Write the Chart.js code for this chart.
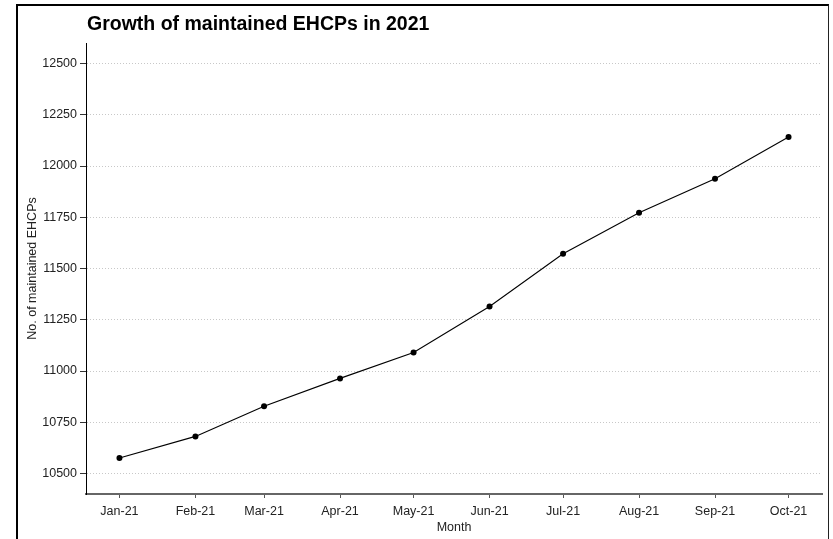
<!DOCTYPE html>
<html>
<head>
<meta charset="utf-8">
<script src="https://cdn.jsdelivr.net/npm/chart.js@4/dist/chart.umd.min.js"></script>
<style>
    html, body { margin: 0; padding: 0; background: #fff; }
    #wrap { position: relative; width: 833px; height: 539px; overflow: hidden; }
    #frame {
        position: absolute; left: 16px; top: 4px; width: 810px; height: 600px;
        border-left: 2px solid #000; border-top: 2px solid #000; border-right: 1px solid #222;
        pointer-events: none;
    }
    canvas { position: absolute; left: 0; top: 0; }
</style>
</head>
<body>
<div id="wrap">
    <div id="frame"></div>
    <canvas id="ehcpChart" width="833" height="539"></canvas>
</div>
<script>
// month labels and the date each point sits on
const monthLabels = ['Jan-21', 'Feb-21', 'Mar-21', 'Apr-21', 'May-21', 'Jun-21', 'Jul-21', 'Aug-21', 'Sep-21', 'Oct-21'];
const monthDates = ['2021-01-01', '2021-02-01', '2021-03-01', '2021-04-01', '2021-05-01',
                    '2021-06-01', '2021-07-01', '2021-08-01', '2021-09-01', '2021-10-01'];
// number of maintained EHCPs
const ehcpCounts = [10576, 10681, 10828, 10964, 11090, 11315, 11572, 11772, 11938, 12141];
const yTicks = [10500, 10750, 11000, 11250, 11500, 11750, 12000, 12250, 12500];

// days since 1 Jan, so months are spaced like a real date axis
const dayMs = 24 * 60 * 60 * 1000;
const dayOffsets = monthDates.map(d => Math.round((Date.parse(d) - Date.parse(monthDates[0])) / dayMs));
const xSpan = dayOffsets[dayOffsets.length - 1] - dayOffsets[0];
const xPad = xSpan * 0.05; // ggplot style 5% expansion

const points = dayOffsets.map((x, i) => ({ x: x, y: ehcpCounts[i] }));

const titlePlugin = {
    id: 'leftTitle',
    afterDraw(chart) {
        const ctx = chart.ctx;
        ctx.save();
        ctx.font = 'bold 19.5px "Liberation Sans", Arial, sans-serif';
        ctx.fillStyle = '#000';
        ctx.textBaseline = 'alphabetic';
        ctx.textAlign = 'left';
        ctx.fillText('Growth of maintained EHCPs in 2021', chart.chartArea.left + 1, 30);
        ctx.restore();
    }
};

Chart.defaults.font.family = '"Liberation Sans", Arial, sans-serif';
Chart.defaults.font.size = 12;
Chart.defaults.color = '#333';

let ctx = document.getElementById('ehcpChart').getContext('2d');
let myChart = new Chart(ctx, {
    type: 'line',
    data: {
        datasets: [{
            data: points,
            borderColor: '#000',
            borderWidth: 1.1,
            backgroundColor: '#000',
            pointRadius: 3,
            pointHoverRadius: 3,
            pointBorderWidth: 0,
            tension: 0
        }]
    },
    options: {
        responsive: false,
        animation: false,
        layout: { padding: { top: 43, right: 11, left: 21, bottom: 0 } },
        plugins: {
            legend: { display: false },
            title: { display: false },
            tooltip: { enabled: false }
        },
        scales: {
            x: {
                type: 'linear',
                min: dayOffsets[0] - xPad,
                max: dayOffsets[dayOffsets.length - 1] + xPad,
                afterBuildTicks: function (scale) {
                    scale.ticks = dayOffsets.map(v => ({ value: v }));
                },
                afterFit: function (scale) { scale.height = 45; },
                ticks: {
                    autoSkip: false,
                    maxRotation: 0,
                    padding: 6,
                    color: '#222',
                    font: { size: 12.5 },
                    callback: function (value) {
                        return monthLabels[dayOffsets.indexOf(value)];
                    }
                },
                grid: { drawOnChartArea: false, drawTicks: true, tickLength: 4, tickColor: '#555', tickWidth: 1 },
                border: { color: '#666', width: 2 },
                title: { display: true, text: 'Month', color: '#222', font: { size: 12.5 }, padding: { top: 4, bottom: 4 } }
            },
            y: {
                min: 10400,
                max: 12600,
                afterBuildTicks: function (scale) {
                    scale.ticks = yTicks.map(v => ({ value: v }));
                },
                afterFit: function (scale) { scale.width = 65; },
                ticks: {
                    padding: 3,
                    color: '#222',
                    font: { size: 12.5 },
                    callback: function (value) { return String(value); }
                },
                grid: {
                    color: '#c8c8c8',
                    lineWidth: 1,
                    tickLength: 6,
                    tickColor: '#333',
                    tickBorderDash: []
                },
                border: { color: '#000', width: 1, dash: [1, 2] },
                title: { display: true, text: 'No. of maintained EHCPs', color: '#222', font: { size: 12.5 }, padding: { top: 4, bottom: 4 } }
            }
        }
    },
    plugins: [titlePlugin]
});
</script>
</body>
</html>
